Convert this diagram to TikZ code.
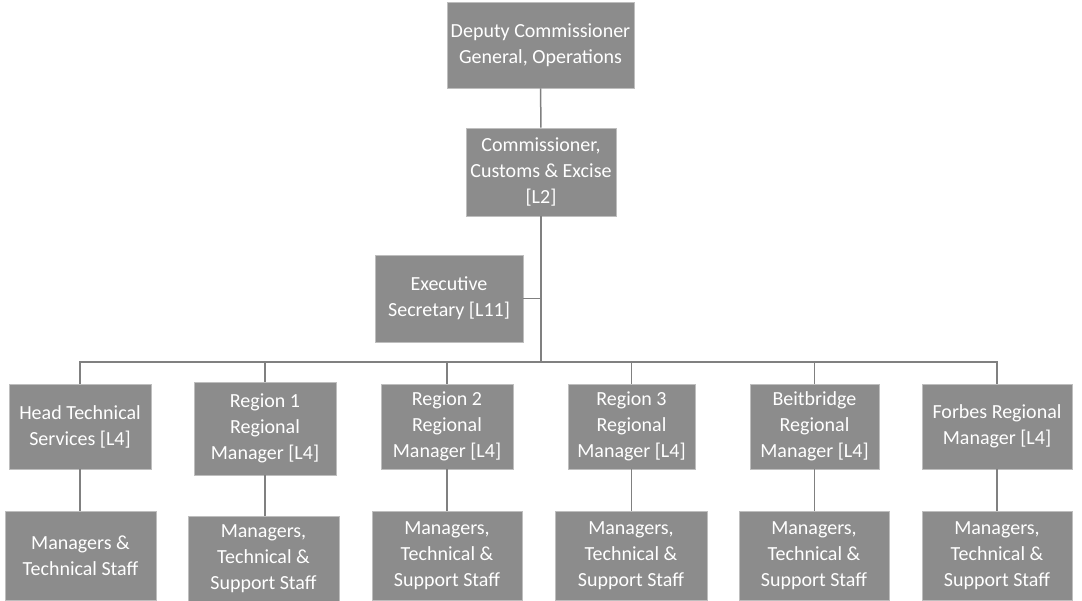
\documentclass[tikz,border=0pt]{standalone}
\usepackage{fontspec}
\setmainfont{Carlito}
\usetikzlibrary{calc}
\definecolor{boxfill}{RGB}{140,140,140}
\definecolor{boxedge}{RGB}{190,190,190}
\definecolor{linkgray}{RGB}{128,128,128}

\begin{document}
\begin{tikzpicture}[x=1pt, y=-1pt,
	box/.style={fill=boxfill, draw=boxedge, line width=0.8pt, text=white, align=center,
		inner sep=0pt, font=\fontsize{20}{26}\selectfont},
	link/.style={draw=linkgray, line width=1.5pt}]
\useasboundingbox (0,0) rectangle (1082,601);
%========================
% top of the chart
%========================
\node[box, minimum width=187, minimum height=86] (dep) at (540.5,45)
	{Deputy Commissioner\\General, Operations};
\node[box, minimum width=150, minimum height=88] (com) at (541,172)
	{Commissioner,\\Customs \& Excise\\{}[L2]};
\node[box, minimum width=148, minimum height=87] (exe) at (449,298.5)
	{Executive\\Secretary [L11]};

%========================
% regional managers
%========================
\node[box, minimum width=142, minimum height=85] (hts) at (80,426.5)
	{Head Technical\\Services [L4]};
\node[box, minimum width=142, minimum height=93] (r1) at (265,428.5)
	{Region 1\\Regional\\Manager [L4]};
\node[box, minimum width=132, minimum height=85] (r2) at (447,426.5)
	{Region 2\\Regional\\Manager [L4]};
\node[box, minimum width=127, minimum height=85] (r3) at (631.5,426.5)
	{Region 3\\Regional\\Manager [L4]};
\node[box, minimum width=129, minimum height=85] (bb) at (814.5,426.5)
	{Beitbridge\\Regional\\Manager [L4]};
\node[box, minimum width=150, minimum height=85] (fb) at (997,426.5)
	{Forbes Regional\\Manager [L4]};

%========================
% staff
%========================
\node[box, minimum width=151, minimum height=89] (hts-staff) at (80.5,555.5)
	{Managers \&\\Technical Staff};
\node[box, minimum width=151, minimum height=85] (r1-staff) at (263.5,558.5)
	{Managers,\\Technical \&\\Support Staff};
\node[box, minimum width=150, minimum height=89] (r2-staff) at (447,555.5)
	{Managers,\\Technical \&\\Support Staff};
\node[box, minimum width=152, minimum height=89] (r3-staff) at (631,555.5)
	{Managers,\\Technical \&\\Support Staff};
\node[box, minimum width=150, minimum height=89] (bb-staff) at (814,555.5)
	{Managers,\\Technical \&\\Support Staff};
\node[box, minimum width=150, minimum height=89] (fb-staff) at (997,555.5)
	{Managers,\\Technical \&\\Support Staff};

% connectors
\coordinate (bus) at (541,362);
\draw[link] (dep) -- (com);
\draw[link] (com) -- (bus);
\draw[link] (exe.east) -- (exe.east -| com);
\draw[link] (hts.north) |- (bus) -| (fb.north);
\foreach \n in {r1,r2,r3,bb}
	\draw[link] (\n.north) -- (\n.north |- bus);
\foreach \n in {hts,r1,r2,r3,bb,fb}
	\draw[link] (\n.south) -- (\n.south |- \n-staff.north);
\end{tikzpicture}
\end{document}
